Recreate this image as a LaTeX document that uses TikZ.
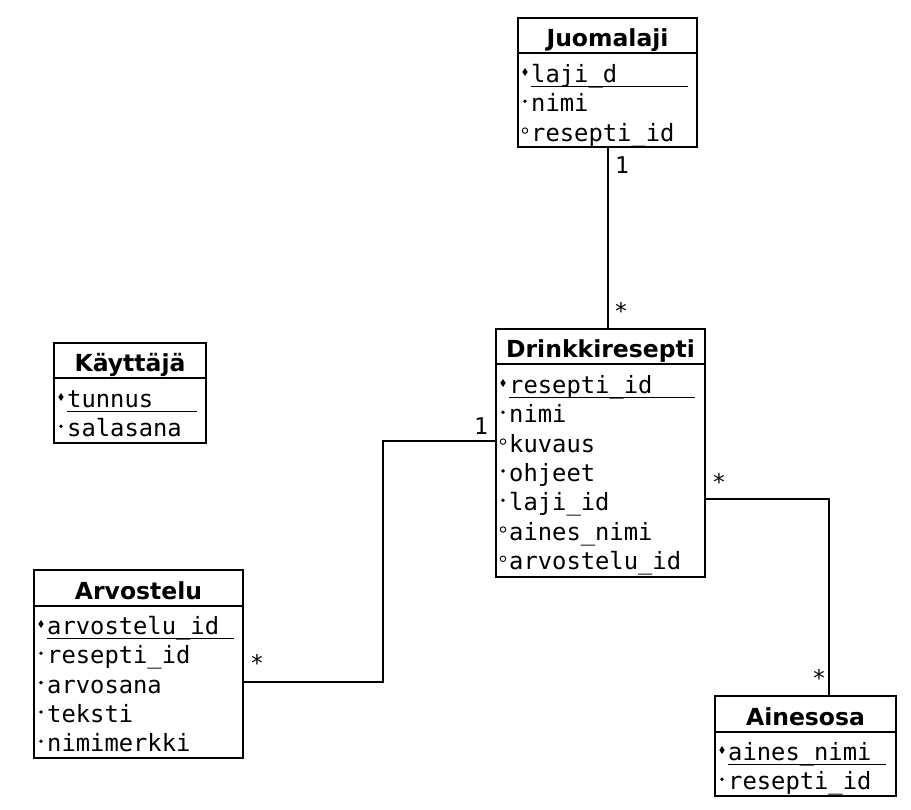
\documentclass[tikz,border=0pt]{standalone}
\usepackage{fontspec}
\setmainfont{DejaVu Sans}
\newfontfamily\attrfont{DejaVu Sans Mono}
\usetikzlibrary{shapes.geometric}
\tikzset{table/.style = {draw, line width = 2pt, anchor = north west, inner sep = 0, outer sep = 0}}
\tikzset{title/.style = {anchor = base, inner sep = 0, font = \bfseries\fontsize{23.5}{27}\selectfont}}
\tikzset{attr/.style = {anchor = west, inner sep = 0, text height = 17pt, text depth = 6pt, font = \attrfont\fontsize{23.8}{27}\selectfont}}
\tikzset{pkey/.style = {diamond, fill, inner sep = 0, minimum width = 5.5pt, minimum height = 8pt}}
\tikzset{nnull/.style = {circle, fill, inner sep = 0, minimum size = 3.8pt}}
\tikzset{nulla/.style = {circle, draw, line width = 0.9pt, inner sep = 0, minimum size = 5.5pt}}
\tikzset{mult/.style = {inner sep = 0, font = \attrfont\fontsize{23}{25}\selectfont}}
\tikzset{link/.style = {line width = 2pt}}

\begin{document}
\begin{tikzpicture}[x = 1pt, y = -1pt]
    \useasboundingbox (0, 0) rectangle (911, 810);

    % Juomalaji
    \begin{scope}[shift={(518, 18)}]
      \node [table, minimum width = 179pt, minimum height = 129pt] (juoma) at (0, 0) {};
      \node [title] (juoma-t) at (89.5, 29) {Juomalaji};
      \draw [line width = 2pt] (0, 35.5) -- (179, 35.5);
      \draw [line width = 0.9pt] (13, 68) -- (170, 68);
      \foreach \txt/\mk [count=\i] in {laji\_d/pkey, nimi/nnull, resepti\_id/nulla} {
        \node [attr] (juoma-\i) at (13, {59 + (\i - 1) * 29.3}) {\txt};
        \node [\mk] (juoma-m\i) at (7, {54 + (\i - 1) * 29.3}) {};
      }
    \end{scope}

    % Drinkkiresepti
    \begin{scope}[shift={(496, 329)}]
      \node [table, minimum width = 209pt, minimum height = 248pt] (drink) at (0, 0) {};
      \node [title] (drink-t) at (104.5, 29) {Drinkkiresepti};
      \draw [line width = 2pt] (0, 35.5) -- (209, 35.5);
      \draw [line width = 0.9pt] (13, 68) -- (199, 68);
      \foreach \txt/\mk [count=\i] in {resepti\_id/pkey, nimi/nnull, kuvaus/nulla, ohjeet/nnull,
                                        laji\_id/nnull, aines\_nimi/nulla, arvostelu\_id/nulla} {
        \node [attr] (drink-\i) at (13, {59 + (\i - 1) * 29.3}) {\txt};
        \node [\mk] (drink-m\i) at (7, {54 + (\i - 1) * 29.3}) {};
      }
    \end{scope}

    % Kayttaja
    \begin{scope}[shift={(54, 343)}]
      \node [table, minimum width = 152pt, minimum height = 100pt] (kayt) at (0, 0) {};
      \node [title] (kayt-t) at (76, 29) {Käyttäjä};
      \draw [line width = 2pt] (0, 35.5) -- (152, 35.5);
      \draw [line width = 0.9pt] (13, 68) -- (143, 68);
      \foreach \txt/\mk [count=\i] in {tunnus/pkey, salasana/nnull} {
        \node [attr] (kayt-\i) at (13, {59 + (\i - 1) * 29.3}) {\txt};
        \node [\mk] (kayt-m\i) at (7, {54 + (\i - 1) * 29.3}) {};
      }
    \end{scope}

    % Arvostelu
    \begin{scope}[shift={(34, 570)}]
      \node [table, minimum width = 209pt, minimum height = 188pt] (arvo) at (0, 0) {};
      \node [title] (arvo-t) at (104.5, 29) {Arvostelu};
      \draw [line width = 2pt] (0, 35.5) -- (209, 35.5);
      \draw [line width = 0.9pt] (13, 68) -- (200, 68);
      \foreach \txt/\mk [count=\i] in {arvostelu\_id/pkey, resepti\_id/nnull, arvosana/nnull,
                                        teksti/nnull, nimimerkki/nnull} {
        \node [attr] (arvo-\i) at (13, {59 + (\i - 1) * 29.3}) {\txt};
        \node [\mk] (arvo-m\i) at (7, {54 + (\i - 1) * 29.3}) {};
      }
    \end{scope}

    % Ainesosa
    \begin{scope}[shift={(715, 696)}]
      \node [table, minimum width = 181pt, minimum height = 100pt] (aines) at (0, 0) {};
      \node [title] (aines-t) at (90.5, 29) {Ainesosa};
      \draw [line width = 2pt] (0, 35.5) -- (181, 35.5);
      \draw [line width = 0.9pt] (13, 68) -- (171, 68);
      \foreach \txt/\mk [count=\i] in {aines\_nimi/pkey, resepti\_id/nnull} {
        \node [attr] (aines-\i) at (13, {59 + (\i - 1) * 29.3}) {\txt};
        \node [\mk] (aines-m\i) at (7, {54 + (\i - 1) * 29.3}) {};
      }
    \end{scope}

    % yhteydet
    \draw [link] (juoma.south) -- (juoma.south |- drink.north);
    \draw [link] (drink.west |- 0, 441) -| (383, 682) -- (arvo.east |- 0, 682);
    \draw [link] (drink.east |- 0, 499) -| (aines.north -| 829, 0);

    \node [mult] (m1) at (622, 165) {1};
    \node [mult] (m2) at (621, 311) {*};
    \node [mult] (m3) at (481, 426) {1};
    \node [mult] (m4) at (257, 663) {*};
    \node [mult] (m5) at (719, 482) {*};
    \node [mult] (m6) at (819, 678) {*};
  \end{tikzpicture}
\end{document}
